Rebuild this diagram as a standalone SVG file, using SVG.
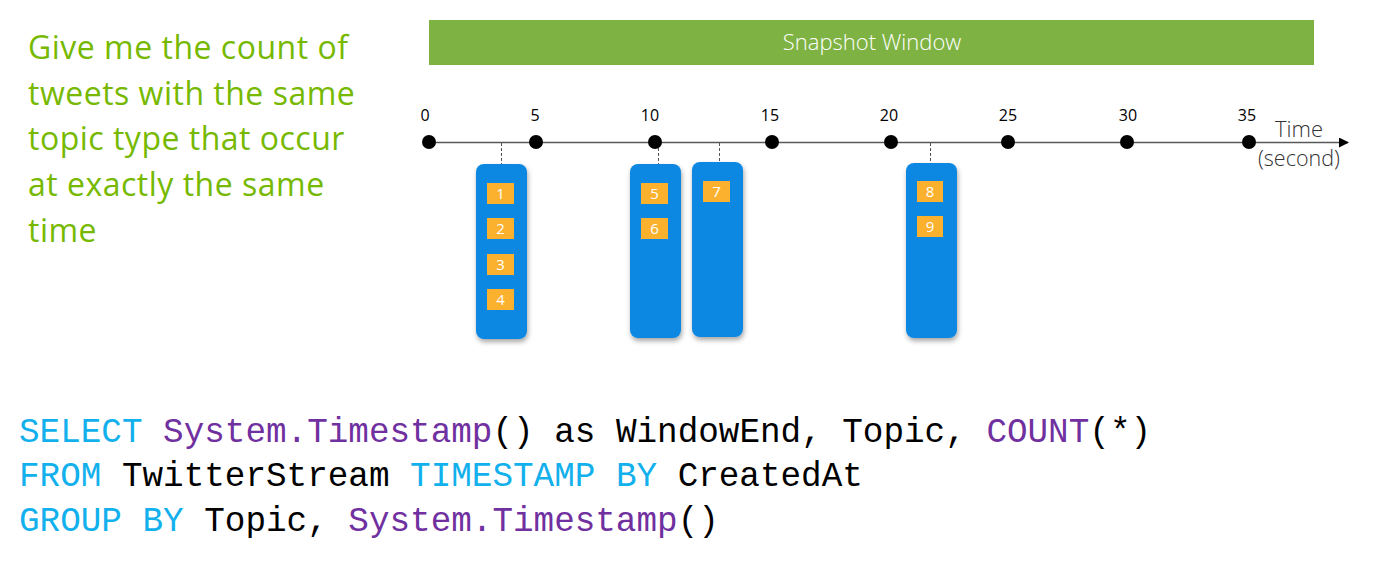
<svg xmlns="http://www.w3.org/2000/svg" width="1374" height="562" viewBox="0 0 1374 562">
<style>
.num{font-family:"Open Sans","Liberation Sans",sans-serif;font-size:16px;fill:#000;text-anchor:middle}
.ev{fill:#0A88E2}
.sq{fill:#FBB12E}
.sqt{font-family:"Open Sans","Liberation Sans",sans-serif;font-size:15px;fill:#fff;text-anchor:middle}
.dot{fill:#000}
.dash{stroke:#555;stroke-width:1;stroke-dasharray:3,2;fill:none}
.code{font-family:"Liberation Mono","DejaVu Sans Mono",monospace;font-size:34.3px}
.kw{fill:#12B0EC}
.fn{fill:#7030A0}
.tx{fill:#000}
.q{font-family:"Open Sans","Liberation Sans",sans-serif;font-size:32px;letter-spacing:0.5px;fill:#76B900}
.light{font-family:"Open Sans","Liberation Sans",sans-serif;font-weight:300}
</style>
<defs>
<marker id="arr" markerWidth="10" markerHeight="10" refX="9" refY="5" orient="auto" markerUnits="userSpaceOnUse">
<path d="M0,0 L10,5 L0,10 Z" fill="#000"/>
</marker>
<filter id="sh" x="-30%" y="-10%" width="160%" height="130%">
<feDropShadow dx="1" dy="3" stdDeviation="2.5" flood-color="#000" flood-opacity="0.35"/>
</filter>
</defs>
<rect width="1374" height="562" fill="#fff"/>

<g id="question">
<text class="q" x="28" y="59">Give me the count of</text>
<text class="q" x="28" y="104.5">tweets with the same</text>
<text class="q" x="28" y="150">topic type that occur</text>
<text class="q" x="28" y="196">at exactly the same</text>
<text class="q" x="28" y="241.5">time</text>
</g>

<g id="snapshot-window">
<rect x="429" y="20" width="885" height="45" fill="#7EB343"/>
<text class="light" x="872" y="50" font-size="22" fill="#fff" text-anchor="middle">Snapshot Window</text>
</g>

<g id="connectors">
<line x1="429" y1="142.5" x2="1348" y2="142.5" stroke="#595959" stroke-width="1.5" marker-end="url(#arr)"/>
<line class="dash" x1="501.5" y1="143" x2="501.5" y2="164"/>
<line class="dash" x1="658.5" y1="143" x2="658.5" y2="164"/>
<line class="dash" x1="719.5" y1="143" x2="719.5" y2="162"/>
<line class="dash" x1="930.5" y1="143" x2="930.5" y2="163"/>
</g>

<g id="timeline-ticks">
<circle class="dot" cx="429" cy="142" r="7"/>
<circle class="dot" cx="536" cy="142" r="7"/>
<circle class="dot" cx="655" cy="142" r="7"/>
<circle class="dot" cx="772" cy="142" r="7"/>
<circle class="dot" cx="891" cy="142" r="7"/>
<circle class="dot" cx="1008" cy="142" r="7"/>
<circle class="dot" cx="1127" cy="142" r="7"/>
<circle class="dot" cx="1249" cy="142" r="7"/>
<text class="num" x="425" y="121">0</text>
<text class="num" x="535" y="121">5</text>
<text class="num" x="650" y="121">10</text>
<text class="num" x="770" y="121">15</text>
<text class="num" x="889" y="121">20</text>
<text class="num" x="1008" y="121">25</text>
<text class="num" x="1128" y="121">30</text>
<text class="num" x="1247" y="121">35</text>
<text class="light" x="1275" y="137" font-size="22" fill="#333">Time</text>
<text class="light" x="1258" y="166" font-size="21.5" fill="#333">(second)</text>
</g>

<g id="event-group-1">
<rect class="ev" x="476" y="164" width="51" height="175" rx="8" filter="url(#sh)"/>
<rect class="sq" x="487" y="183" width="27" height="21"/><text class="sqt" x="500.5" y="199">1</text>
<rect class="sq" x="487" y="218" width="27" height="21"/><text class="sqt" x="500.5" y="234">2</text>
<rect class="sq" x="487" y="254" width="27" height="21"/><text class="sqt" x="500.5" y="270">3</text>
<rect class="sq" x="487" y="289" width="27" height="21"/><text class="sqt" x="500.5" y="305">4</text>
</g>

<g id="event-group-2">
<rect class="ev" x="630" y="164" width="51" height="174" rx="8" filter="url(#sh)"/>
<rect class="sq" x="641" y="183" width="27" height="21"/><text class="sqt" x="654.5" y="199">5</text>
<rect class="sq" x="641" y="218" width="27" height="21"/><text class="sqt" x="654.5" y="234">6</text>
</g>

<g id="event-group-3">
<rect class="ev" x="692" y="162" width="51" height="175" rx="8" filter="url(#sh)"/>
<rect class="sq" x="703" y="181" width="27" height="21"/><text class="sqt" x="716.5" y="197">7</text>
</g>

<g id="event-group-4">
<rect class="ev" x="906" y="163" width="51" height="175" rx="8" filter="url(#sh)"/>
<rect class="sq" x="917" y="181" width="26" height="21"/><text class="sqt" x="930" y="197">8</text>
<rect class="sq" x="917" y="216" width="26" height="21"/><text class="sqt" x="930" y="232">9</text>
</g>

<g id="query" class="code">
<text x="19" y="442" xml:space="preserve"><tspan class="kw">SELECT</tspan><tspan class="tx"> </tspan><tspan class="fn">System.Timestamp</tspan><tspan class="tx">() as WindowEnd, Topic, </tspan><tspan class="fn">COUNT</tspan><tspan class="tx">(*)</tspan></text>
<text x="19" y="486" xml:space="preserve"><tspan class="kw">FROM</tspan><tspan class="tx"> TwitterStream </tspan><tspan class="kw">TIMESTAMP BY</tspan><tspan class="tx"> CreatedAt</tspan></text>
<text x="19" y="531" xml:space="preserve"><tspan class="kw">GROUP BY</tspan><tspan class="tx"> Topic, </tspan><tspan class="fn">System.Timestamp</tspan><tspan class="tx">()</tspan></text>
</g>
</svg>
